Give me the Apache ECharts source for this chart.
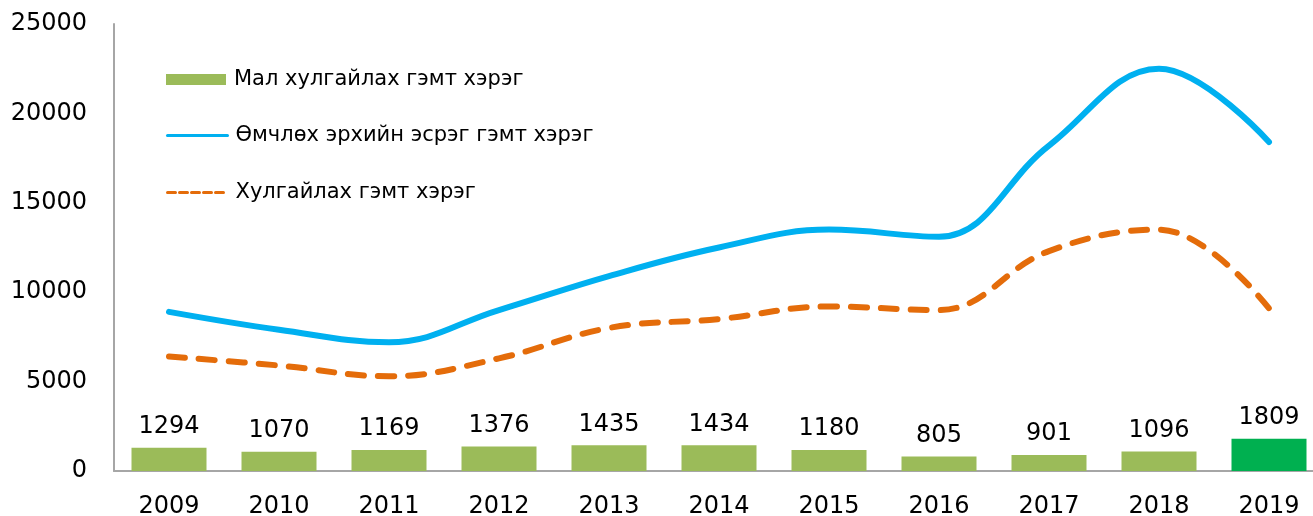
<!DOCTYPE html>
<html>
<head>
<meta charset="utf-8">
<script src="https://cdn.jsdelivr.net/npm/echarts@6/dist/echarts.min.js"></script>
<style>
    html, body { margin: 0; padding: 0; background: #fff; }
    #chart { width: 1313px; height: 516px; }
</style>
</head>
<body>
<div id="chart"></div>
<script>
// data
var years = ['2009', '2010', '2011', '2012', '2013', '2014', '2015', '2016', '2017', '2018', '2019'];
var livestockTheft = [1294, 1070, 1169, 1376, 1435, 1434, 1180, 805, 901, 1096, 1809];
var propertyCrime = [8900, 7900, 7200, 9000, 10900, 12500, 13500, 13100, 18200, 22500, 18400];
var theft = [6400, 5900, 5300, 6300, 8000, 8500, 9200, 9000, 12300, 13500, 9100];
var yTicks = [0, 5000, 10000, 15000, 20000, 25000];

var names = ['Мал хулгайлах гэмт хэрэг', 'Өмчлөх эрхийн эсрэг гэмт хэрэг', 'Хулгайлах гэмт хэрэг'];
var font = 'DejaVu Sans';

{
    var myChart = echarts.init(document.getElementById('chart'));

    // last bar has its own colour
    var barData = livestockTheft.map(function (v, i) {
        if (i === livestockTheft.length - 1) {
            return { value: v, itemStyle: { color: '#00B050' } };
        }
        return v;
    });

    var legendText = { fontFamily: font, fontSize: 21, color: '#000', padding: [0, 0, 0, 3] };

    var option = {
        animation: false,
        grid: {
            left: 114,
            top: 24,
            width: 1210,
            height: 447,
            outerBoundsMode: 'none'
        },
        legend: [
            {
                data: [names[0]], left: 161, top: 64, orient: 'vertical',
                icon: 'rect', itemWidth: 60, itemHeight: 11,
                textStyle: legendText
            },
            {
                data: [names[1]], left: 161, top: 120, orient: 'vertical',
                itemWidth: 60, itemHeight: 11,
                itemStyle: { opacity: 0 },
                lineStyle: { width: 3 },
                textStyle: legendText
            },
            {
                data: [names[2]], left: 161, top: 177, orient: 'vertical',
                itemWidth: 60, itemHeight: 11,
                itemStyle: { opacity: 0 },
                lineStyle: { width: 3, type: [8, 4] },
                textStyle: legendText
            }
        ],
        xAxis: {
            type: 'category',
            data: years,
            axisTick: { show: false },
            axisLine: { lineStyle: { color: '#A6A6A6', width: 2 } },
            axisLabel: {
                fontFamily: font,
                fontSize: 24,
                color: '#000',
                margin: 24
            }
        },
        yAxis: {
            type: 'value',
            min: yTicks[0],
            max: yTicks[yTicks.length - 1],
            interval: yTicks[1] - yTicks[0],
            splitLine: { show: false },
            axisTick: { show: false },
            axisLine: { show: true, lineStyle: { color: '#A6A6A6', width: 2 } },
            axisLabel: {
                fontFamily: font,
                fontSize: 24,
                color: '#000',
                margin: 27,
                formatter: function (v) { return String(v); }
            }
        },
        series: [
            {
                name: names[0],
                type: 'bar',
                barWidth: 75,
                data: barData,
                itemStyle: { color: '#9BBB59' },
                label: {
                    show: true,
                    position: 'top',
                    distance: 9,
                    fontFamily: font,
                    fontSize: 24,
                    color: '#000'
                },
                z: 1
            },
            {
                name: names[1],
                type: 'line',
                data: propertyCrime,
                smooth: 0.4,
                symbol: 'none',
                itemStyle: { color: '#00B0F0' },
                lineStyle: { color: '#00B0F0', width: 6, cap: 'round' },
                z: 3
            },
            {
                name: names[2],
                type: 'line',
                data: theft,
                smooth: 0.4,
                symbol: 'none',
                itemStyle: { color: '#E46C0A' },
                lineStyle: { color: '#E46C0A', width: 6, type: [16, 14], cap: 'round' },
                z: 2
            }
        ]
    };
    myChart.setOption(option);
    window.addEventListener('resize', function () {
        myChart.resize();
    });
}
</script>
</body>
</html>
